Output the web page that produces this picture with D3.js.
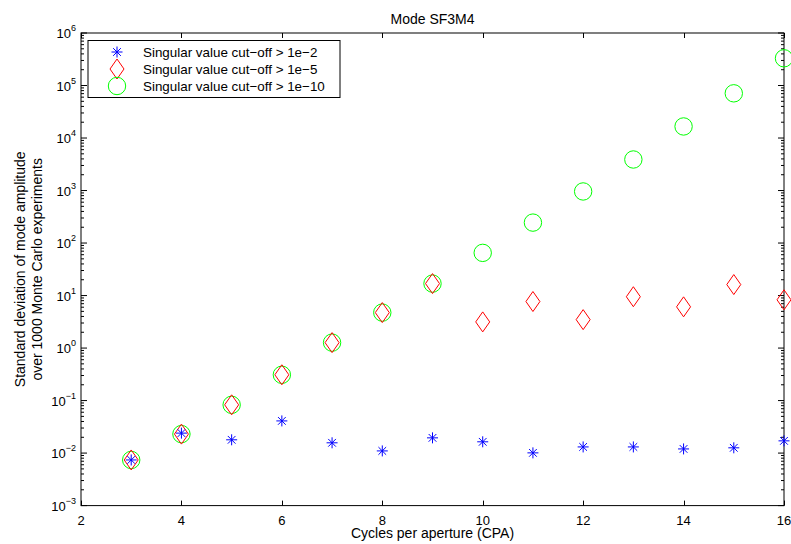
<!DOCTYPE html>
<html>
<head>
<meta charset="utf-8">
<script src="https://cdn.jsdelivr.net/npm/d3@7"></script>
<style>
  body { margin: 0; background: #fff; }
  svg text { font-family: "Liberation Sans", Arial, sans-serif; fill: #000; }
</style>
</head>
<body>
<svg width="791" height="544"></svg>
<script>
// cycles per aperture
var cpa = [3, 4, 5, 6, 7, 8, 9, 10, 11, 12, 13, 14, 15, 16];
// singular value cut-off > 1e-2
var cut2 = [0.0074, 0.024, 0.0179, 0.041, 0.0157, 0.011, 0.0195, 0.0164, 0.0101, 0.0131, 0.0131, 0.012, 0.0126, 0.0171];
// singular value cut-off > 1e-5
var cut5 = [0.0074, 0.023, 0.083, 0.31, 1.27, 4.74, 16.9, 3.15, 7.7, 3.48, 9.5, 6.1, 16.2, 8.3];
// singular value cut-off > 1e-10
var cut10 = [0.0074, 0.023, 0.083, 0.31, 1.27, 4.74, 16.9, 65, 245, 960, 3900, 16600, 71000, 330000];
var xTicks = [2, 4, 6, 8, 10, 12, 14, 16];
var yExps = [-3, -2, -1, 0, 1, 2, 3, 4, 5, 6];
var legendLabels = ["Singular value cut\u2212off > 1e\u22122", "Singular value cut\u2212off > 1e\u22125", "Singular value cut\u2212off > 1e\u221210"];

var svg = d3.select("svg");
var mLeft = 81, mTop = 33, mRight = 784, mBottom = 505.6;

var xScale = d3.scaleLinear().domain([2, 16]).range([mLeft, mRight]);
var yScale = d3.scaleLog().domain([1e-3, 1e6]).range([mBottom, mTop]);

var g = svg.append("g");

// frame
g.append("rect")
  .attr("x", mLeft).attr("y", mTop)
  .attr("width", mRight - mLeft).attr("height", mBottom - mTop)
  .attr("fill", "none").attr("stroke", "#000").attr("stroke-width", 1);

// x ticks (inward, top and bottom)
xTicks.forEach(function(t) {
  var x = Math.round(xScale(t)) + 0.5;
  g.append("line").attr("x1", x).attr("x2", x).attr("y1", mBottom).attr("y2", mBottom - 5).attr("stroke", "#000");
  g.append("line").attr("x1", x).attr("x2", x).attr("y1", mTop).attr("y2", mTop + 5).attr("stroke", "#000");
  g.append("text")
    .attr("x", xScale(t)).attr("y", mBottom + 19.5)
    .attr("text-anchor", "middle")
    .attr("font-size", "13px")
    .text(t);
});

// y ticks, major and minor
yExps.forEach(function(e) {
  var y = yScale(Math.pow(10, e));
  g.append("line").attr("x1", mLeft).attr("x2", mLeft + 6).attr("y1", y).attr("y2", y).attr("stroke", "#000");
  g.append("line").attr("x1", mRight).attr("x2", mRight - 6).attr("y1", y).attr("y2", y).attr("stroke", "#000");
  var lab = g.append("text")
    .attr("x", mLeft - 5).attr("y", y + 5)
    .attr("text-anchor", "end")
    .attr("font-size", "13px");
  lab.append("tspan").text("10");
  lab.append("tspan").attr("dy", -7).attr("font-size", "9px").text(e < 0 ? "\u2212" + (-e) : e);
  if (e < 6) {
    for (var m = 2; m <= 9; m++) {
      var ym = yScale(m * Math.pow(10, e));
      g.append("line").attr("x1", mLeft).attr("x2", mLeft + 3).attr("y1", ym).attr("y2", ym).attr("stroke", "#000");
      g.append("line").attr("x1", mRight).attr("x2", mRight - 3).attr("y1", ym).attr("y2", ym).attr("stroke", "#000");
    }
  }
});

// marker shapes
function starPath(s) {
  var a = s * 0.7;
  return "M" + (-s) + ",0L" + s + ",0M0," + (-s) + "L0," + s +
    "M" + (-a) + "," + (-a) + "L" + a + "," + a + "M" + (-a) + "," + a + "L" + a + "," + (-a);
}
function diamondPath(w, h) {
  return "M0," + (-h) + "L" + w + ",0L0," + h + "L" + (-w) + ",0Z";
}

function drawStar(sel, x, y) {
  sel.append("path").attr("d", starPath(5.5))
    .attr("transform", "translate(" + x + "," + y + ")")
    .attr("fill", "none").attr("stroke", "#0000ff").attr("stroke-width", 1);
}
function drawDiamond(sel, x, y) {
  sel.append("path").attr("d", diamondPath(7, 10))
    .attr("transform", "translate(" + x + "," + y + ")")
    .attr("fill", "none").attr("stroke", "#ff0000").attr("stroke-width", 1);
}
function drawCircle(sel, x, y) {
  sel.append("circle").attr("cx", x).attr("cy", y).attr("r", 8.7)
    .attr("fill", "none").attr("stroke", "#00ff00").attr("stroke-width", 1);
}

var marks = svg.append("g");
cpa.forEach(function(c, i) {
  drawCircle(marks, xScale(c), yScale(cut10[i]));
});
cpa.forEach(function(c, i) {
  drawDiamond(marks, xScale(c), yScale(cut5[i]));
});
cpa.forEach(function(c, i) {
  drawStar(marks, xScale(c), yScale(cut2[i]));
});

// legend
var lg = svg.append("g");
lg.append("rect")
  .attr("x", 88).attr("y", 40.5).attr("width", 252).attr("height", 57)
  .attr("fill", "#fff").attr("stroke", "#000").attr("stroke-width", 1);
var drawers = [drawStar, drawDiamond, drawCircle];
legendLabels.forEach(function(txt, i) {
  var y = 52 + i * 17;
  drawers[i](lg, 117, y);
  lg.append("text").attr("x", 143).attr("y", y + 5)
    .attr("font-size", "13.4px").text(txt);
});

// title and axis labels
svg.append("text")
  .attr("x", (mLeft + mRight) / 2).attr("y", 23.5)
  .attr("text-anchor", "middle").attr("font-size", "14px")
  .text("Mode SF3M4");

svg.append("text")
  .attr("x", (mLeft + mRight) / 2).attr("y", 538)
  .attr("text-anchor", "middle").attr("font-size", "14px")
  .text("Cycles per aperture (CPA)");

var yl = svg.append("text")
  .attr("transform", "translate(24.5," + ((mTop + mBottom) / 2) + ") rotate(-90)")
  .attr("text-anchor", "middle").attr("font-size", "14px");
yl.append("tspan").attr("x", 0).attr("y", 0).text("Standard deviation of mode amplitude");
yl.append("tspan").attr("x", 0).attr("y", 17).text("over 1000 Monte Carlo experiments");
</script>
</body>
</html>
